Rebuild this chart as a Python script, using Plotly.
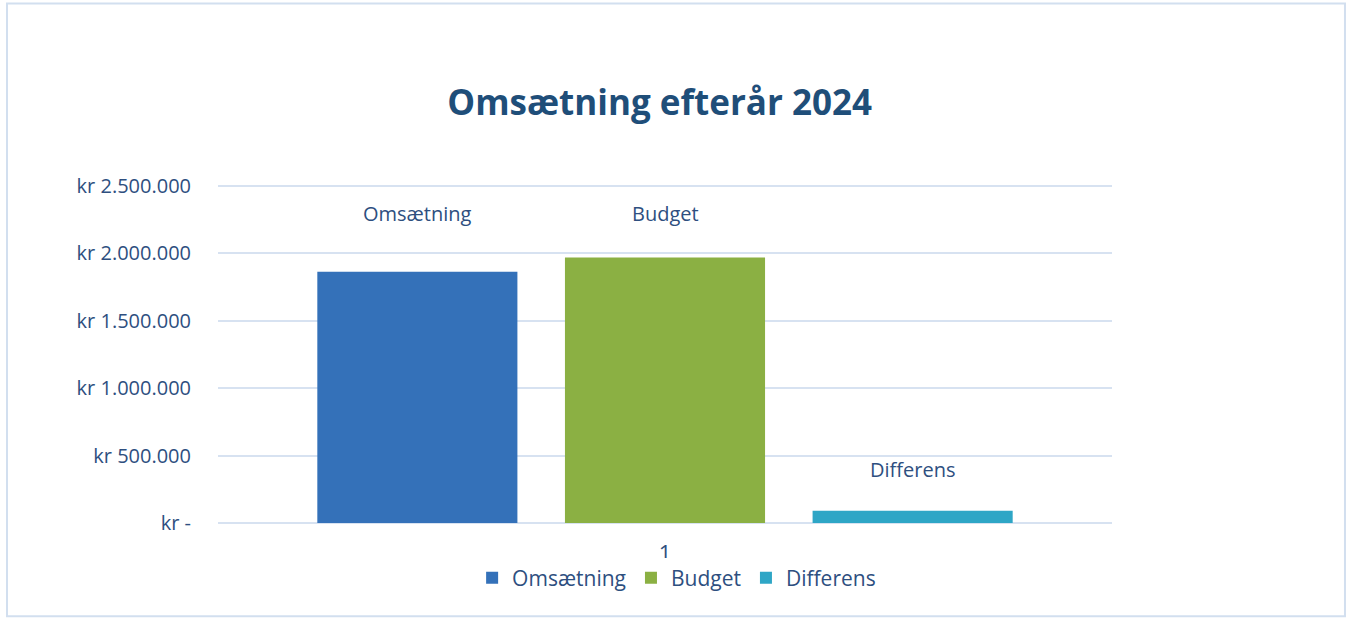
import plotly.graph_objects as go

categories = ["1"]
series_names = ["Omsætning", "Budget", "Differens"]
values = [1865000, 1970000, 90000]
colors = ["#3471B9", "#8BB043", "#2EA6C6"]
label_y = [2300000, 2300000, 400000]
tick_vals = [0, 500000, 1000000, 1500000, 2000000, 2500000]
tick_text = ["kr -", "kr 500.000", "kr 1.000.000", "kr 1.500.000", "kr 2.000.000", "kr 2.500.000"]

txt = "#2E4F7F"
font = "Open Sans, Liberation Sans, sans-serif"

fig = go.Figure()
for name, v, c in zip(series_names, values, colors):
    fig.add_trace(go.Bar(x=categories, y=[v], name=name, marker=dict(color=c, line=dict(width=0))))

offsets = [-0.277, 0.0, 0.277]
for name, off, ly in zip(series_names, offsets, label_y):
    fig.add_annotation(x=off, y=ly, xref="x", yref="y", text=name, showarrow=False,
                       font=dict(size=20, color=txt, family=font))

fig.update_layout(
    width=1351, height=618,
    paper_bgcolor="white", plot_bgcolor="white",
    margin=dict(l=218, r=239, t=185, b=95),
    barmode="group", bargap=0.169, bargroupgap=0.192,
    title=dict(text="<b>Omsætning efterår 2024</b>", xref="paper", x=0.494, xanchor="center",
               y=0.833, yanchor="middle",
               font=dict(size=35, color="#1F4E79", family=font)),
    font=dict(family=font, color=txt, size=20),
    legend=dict(orientation="h", x=0.513, xanchor="center", y=-0.163, yanchor="middle",
                font=dict(size=21, color=txt), itemwidth=30, traceorder="normal"),
    xaxis=dict(type="category", showgrid=False, showline=False, ticks="", tickfont=dict(size=22, color=txt),
               ticklabelstandoff=15),
    yaxis=dict(range=[0, 2508000], tickvals=tick_vals, ticktext=tick_text, showgrid=True,
               gridcolor="#D7E2F1", gridwidth=2, zeroline=True, zerolinecolor="#D7E2F1", zerolinewidth=2,
               showline=False, ticks="", tickfont=dict(size=20, color=txt), ticklabelstandoff=26),
    shapes=[dict(type="rect", xref="paper", yref="paper", x0=-0.236, x1=1.2606, y0=-0.276, y1=1.537,
                 line=dict(color="#D2DFEF", width=2), fillcolor="rgba(0,0,0,0)", layer="below")],
)

fig.write_html("out.html", config={"displayModeBar": False},
               post_script="document.body.style.margin='0';document.body.style.overflow='hidden';")
